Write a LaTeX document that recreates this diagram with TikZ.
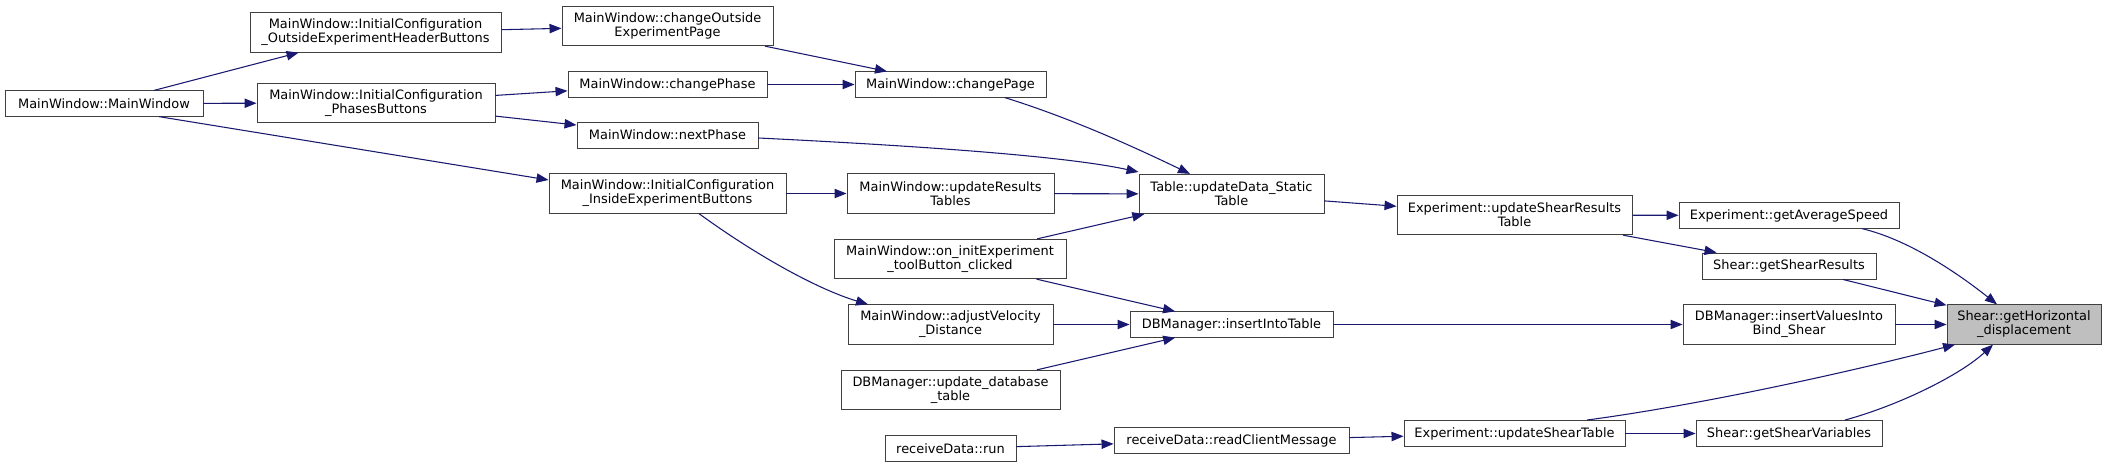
\documentclass[tikz,border=0pt]{standalone}
\usepackage{fontspec}
\setmainfont{DejaVu Sans}
\usetikzlibrary{arrows.meta}
\definecolor{callblue}{RGB}{25,25,112}
\definecolor{rootgray}{RGB}{191,191,191}

\begin{document}
\begin{tikzpicture}[x=0.75pt, y=-0.75pt, >={Triangle[length=9pt,width=7pt]},
    func/.style={draw=black!75, fill=white, line width=0.7pt, inner sep=0pt,
      align=center, font=\fontsize{9.7}{10.5}\selectfont},
    one/.style={func, minimum height=19pt},
    two/.style={func, minimum height=29.5pt},
    call/.style={->, callblue, line width=0.8pt}]
  \useasboundingbox (0,0) rectangle (2107,467);

  % callers, left to right
  \node[one, minimum width=148.5pt] (mwMain) at (104,103.5) {MainWindow::MainWindow};

  \node[two, minimum width=188.25pt] (cfgOutside) at (375.5,32.5) {MainWindow::InitialConfiguration\\\_OutsideExperimentHeaderButtons};
  \node[two, minimum width=178.5pt] (cfgPhases) at (376,103) {MainWindow::InitialConfiguration\\\_PhasesButtons};

  \node[two, minimum width=158.25pt] (chgOutside) at (667.5,26) {MainWindow::changeOutside\\ExperimentPage};
  \node[one, minimum width=149.25pt] (chgPhase) at (667.5,84.5) {MainWindow::changePhase};
  \node[one, minimum width=135.75pt, minimum height=19.5pt] (nxtPhase) at (667.5,135) {MainWindow::nextPhase};
  \node[two, minimum width=177.75pt] (cfgInside) at (667.5,193.5) {MainWindow::InitialConfiguration\\\_InsideExperimentButtons};

  \node[one, minimum width=143.25pt] (chgPage) at (950.5,84.5) {MainWindow::changePage};
  \node[two, minimum width=155.25pt] (updResults) at (950.5,193.5) {MainWindow::updateResults\\Tables};
  \node[two, minimum width=174pt] (onInit) at (950,259) {MainWindow::on\_initExperiment\\\_toolButton\_clicked};
  \node[two, minimum width=153.75pt] (adjVel) at (950.5,324.5) {MainWindow::adjustVelocity\\\_Distance};
  \node[two, minimum width=164.25pt] (updDb) at (950.5,390) {DBManager::update\_database\\\_table};
  \node[one, minimum width=98.25pt] (rcvRun) at (950.5,448.5) {receiveData::run};

  \node[two, minimum width=138.75pt] (tblStatic) at (1231.5,194) {Table::updateData\_Static\\Table};
  \node[one, minimum width=152.25pt] (insTable) at (1231.5,324.5) {DBManager::insertIntoTable};
  \node[one, minimum width=176.25pt] (rcvMsg) at (1231.5,440.5) {receiveData::readClientMessage};

  \node[two, minimum width=176.25pt] (expResults) at (1514.5,215) {Experiment::updateShearResults\\Table};
  \node[one, minimum width=165.75pt, minimum height=19.5pt] (expTable) at (1514.5,433.5) {Experiment::updateShearTable};

  \node[one, minimum width=165pt] (avgSpeed) at (1789,215.5) {Experiment::getAverageSpeed};
  \node[one, minimum width=130.5pt, minimum height=19.5pt] (shResults) at (1789,266) {Shear::getShearResults};
  \node[two, minimum width=159pt] (insBind) at (1789,324.5) {DBManager::insertValuesInto\\Bind\_Shear};
  \node[one, minimum width=139.5pt, minimum height=19.5pt] (shVars) at (1789,433.5) {Shear::getShearVariables};

  % the function itself
  \node[two, fill=rootgray, minimum width=115.5pt] (hDisp) at (2024,324.5) {Shear::getHorizontal\\\_displacement};

  % calls
  \draw[call] (mwMain) -- (cfgOutside);
  \draw[call] (mwMain) -- (cfgPhases);
  \draw[call] (mwMain.south -| 159,0) -- (cfgInside.west |- 0,180);
  \draw[call] (cfgOutside) -- (chgOutside);
  \draw[call] (cfgPhases) -- (chgPhase);
  \draw[call] (cfgPhases) -- (nxtPhase);
  \draw[call] (chgOutside) -- (chgPage);
  \draw[call] (chgPhase) -- (chgPage);
  \draw[call] (chgPage.south -| 1005,0) .. controls (1070,118) and (1130,145) .. (tblStatic.north -| 1190,0);
  \draw[call] (nxtPhase.east |- 0,138) .. controls (900,145) and (1060,155) .. (tblStatic.west |- 0,172);
  \draw[call] (cfgInside) -- (updResults);
  \draw[call] (cfgInside.south -| 699,0) .. controls (760,258) and (820,290) .. (adjVel.north -| 868,0);
  \draw[call] (updResults) -- (tblStatic);
  \draw[call] (onInit) -- (tblStatic);
  \draw[call] (onInit) -- (insTable);
  \draw[call] (adjVel) -- (insTable);
  \draw[call] (updDb) -- (insTable);
  \draw[call] (rcvRun) -- (rcvMsg);
  \draw[call] (rcvMsg) -- (expTable);
  \draw[call] (tblStatic) -- (expResults);
  \draw[call] (insTable) -- (insBind);
  \draw[call] (expResults) -- (avgSpeed);
  \draw[call] (expResults) -- (shResults);
  \draw[call] (expTable) -- (shVars);
  \draw[call] (expTable.north -| 1587,0) .. controls (1700,405) and (1850,372) .. (hDisp.south -| 1955,0);
  \draw[call] (avgSpeed.south -| 1862,0) .. controls (1910,240) and (1960,275) .. (hDisp.north -| 1997,0);
  \draw[call] (shResults) -- (hDisp);
  \draw[call] (insBind) -- (hDisp);
  \draw[call] (shVars.north -| 1845,0) .. controls (1900,405) and (1960,375) .. (hDisp.south -| 1993,0);
\end{tikzpicture}
\end{document}
